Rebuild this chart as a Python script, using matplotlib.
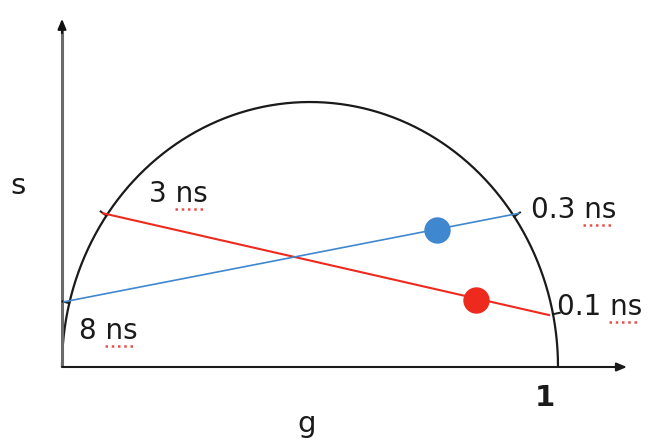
import matplotlib
matplotlib.use("Agg")
import matplotlib.pyplot as plt
import numpy as np

# phasor endpoints on the universal semicircle (g, s) and their lifetimes
red_labels = ["3 ns", "0.1 ns"]
red_g = [0.083, 0.982]
red_s = [0.290, 0.098]
blue_labels = ["8 ns", "0.3 ns"]
blue_g = [0.004, 0.921]
blue_s = [0.123, 0.290]

# measured phasors
red_point = (0.835, 0.126)
blue_point = (0.756, 0.259)

RED = "#ee2a1e"
BLUE = "#3f87cf"

fig = plt.figure(figsize=(6.52, 4.43), dpi=100)
ax = fig.add_axes([0, 0, 1, 1])
ax.set_xlim(-0.125, 1.1895)
ax.set_ylim(-0.1434, 0.6925)
ax.axis("off")

# universal semicircle
th = np.linspace(0, np.pi, 400)
ax.plot(0.5 + 0.5 * np.cos(th), 0.5 * np.sin(th), color="#1a1a1a", lw=1.6,
        solid_capstyle="butt")

# axes with arrow heads
ax.annotate("", xy=(1.139, 0), xytext=(0, 0),
            arrowprops=dict(arrowstyle="-|>,head_length=0.6,head_width=0.25",
                            color="#1a1a1a", lw=1.5, shrinkA=0, shrinkB=0))
ax.plot([0, 0], [0, 0.64], color="#6a6a6a", lw=2.2, solid_capstyle="butt")
ax.annotate("", xy=(0, 0.657), xytext=(0, 0.63),
            arrowprops=dict(arrowstyle="-|>,head_length=0.6,head_width=0.25",
                            color="#111111", lw=1.5, shrinkA=0, shrinkB=0))

# lines between lifetimes
ax.plot(red_g, red_s, color=RED, lw=1.5, zorder=3)
ax.plot(blue_g, blue_s, color=BLUE, lw=1.2, zorder=3)

# small outward ticks where lines meet the circle
for g, s in zip(red_g + blue_g, red_s + blue_s):
    ang = np.arctan2(s, g - 0.5)
    r0, r1 = 0.5, 0.514
    ax.plot([0.5 + r0 * np.cos(ang), 0.5 + r1 * np.cos(ang)],
            [r0 * np.sin(ang), r1 * np.sin(ang)], color="#1a1a1a", lw=1.4)

ax.plot(*blue_point, "o", ms=19, color=BLUE, mec="none", zorder=4)
ax.plot(*red_point, "o", ms=19, color=RED, mec="none", zorder=4)


def px(x, y):
    # figure pixel (from top-left) to data coordinates
    return (x - 62) / 496.0, (367 - y) / 530.0


fs = 20
ax.text(*px(18, 186), "s", fontsize=21, ha="center", va="center", color="#1a1a1a")
ax.text(*px(307, 424), "g", fontsize=21, ha="center", va="center", color="#1a1a1a")
ax.text(*px(545, 398), "1", fontsize=21, ha="center", va="center",
        color="#1a1a1a", fontweight="bold")

labels = [
    (red_labels[0], px(149, 194)),
    (red_labels[1], px(557, 307)),
    (blue_labels[0], px(79, 331)),
    (blue_labels[1], px(531, 210)),
]
texts = []
for lab, pos in labels:
    t = ax.text(*pos, lab, fontsize=fs, ha="left", va="center", color="#1a1a1a")
    texts.append(t)

# red dotted spell-check style underline under "ns"
fig.canvas.draw()
r = fig.canvas.get_renderer()
tmp = ax.text(0, 0, "ns", fontsize=fs)
w_ns = tmp.get_window_extent(r).width
tmp.remove()
inv = ax.transData.inverted()
for t in texts:
    bb = t.get_window_extent(r)
    x0, y0 = inv.transform((bb.x1 - w_ns - 1, bb.y0 - 1))
    x1, _ = inv.transform((bb.x1 - 5, bb.y0 - 1))
    ax.plot([x0, x1], [y0, y0], color="#e8504a", lw=1.8, ls=(0, (1.0, 1.5)))

fig.savefig("out.png", dpi=100)
